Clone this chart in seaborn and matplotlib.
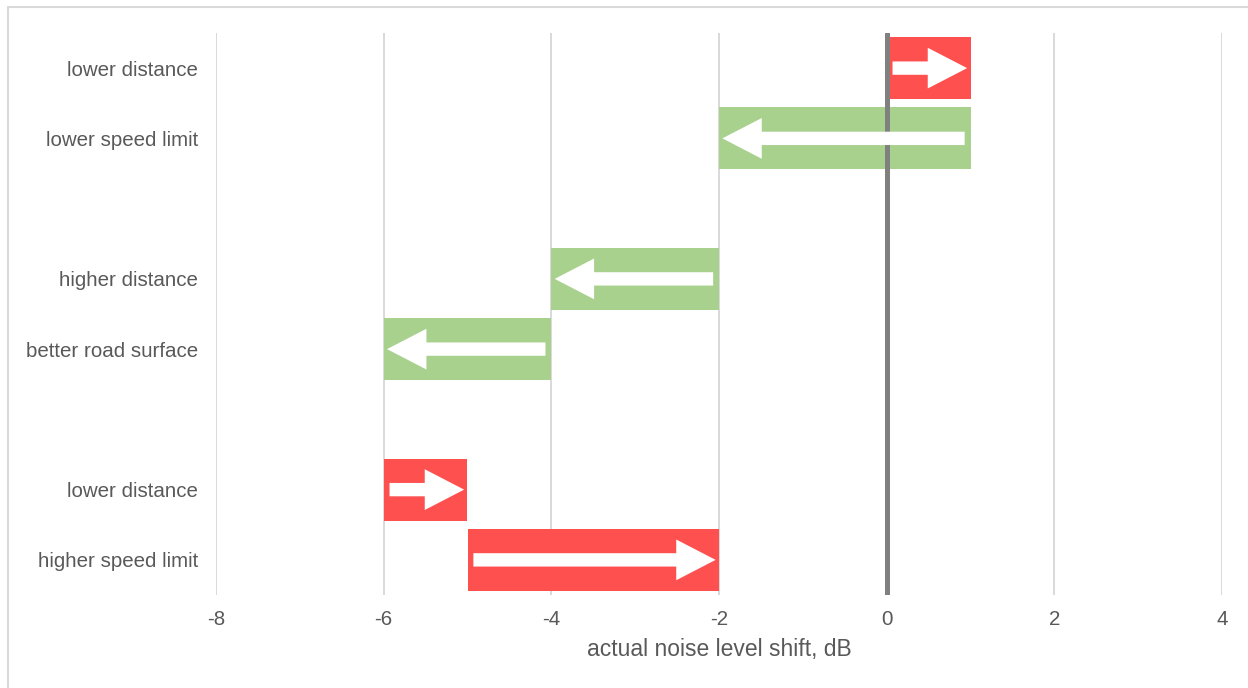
import matplotlib
matplotlib.use("Agg")
import matplotlib.pyplot as plt
import matplotlib.patches as mpatches
import seaborn as sns
import pandas as pd
import numpy as np

# rows top -> bottom, gaps are empty slots
slots = ["r0", "r1", "g1", "r2", "r3", "g2", "r4", "r5"]
slot_labels = ["lower distance", "lower speed limit", "",
               "higher distance", "better road surface", "",
               "lower distance", "higher speed limit"]

# bars: start value -> end value (dB)
bar_rows = ["r0", "r1", "r2", "r3", "r4", "r5"]
bar_start = [0, 1, -2, -4, -6, -5]
bar_end = [1, -2, -4, -6, -5, -2]
bar_effect = ["worse", "better", "better", "better", "worse", "worse"]

colors = {"worse": "#FF5050", "better": "#A9D18E"}

df = pd.DataFrame({"row": bar_rows, "start": bar_start, "end": bar_end,
                   "effect": bar_effect})
df["left"] = df[["start", "end"]].min(axis=1)
df["width"] = (df["end"] - df["start"]).abs()

sns.set_theme(style="white")
plt.rcParams["font.family"] = ["Liberation Sans", "DejaVu Sans"]
plt.rcParams["axes.unicode_minus"] = False

fig = plt.figure(figsize=(12.48, 6.88), dpi=100)
ax = fig.add_axes([216/1248, 1-595/688, (1222-216)/1248, (595-33)/688])

ax.grid(axis="x", color="#D9D9D9", linewidth=1.4, zorder=0)
ax.set_axisbelow(True)

sns.barplot(data=df, x="width", y="row", hue="effect", palette=colors,
            order=slots, orient="y", dodge=False, legend=False,
            errorbar=None, width=0.88, saturation=1, linewidth=0, ax=ax)

# floating bars: move each bar to its start value
pos = {s: i for i, s in enumerate(slots)}
left_at = {pos[r]: l for r, l in zip(df["row"], df["left"])}
for p in ax.patches:
    yc = round(p.get_y() + p.get_height() / 2)
    if yc in left_at:
        p.set_x(left_at[yc])
    p.set_zorder(2)

# white arrows inside the bars
for _, r in df.iterrows():
    d = np.sign(r["end"] - r["start"])
    x0 = r["start"] + 0.07 * d
    x1 = r["end"] - 0.04 * d
    ax.arrow(x0, pos[r["row"]], x1 - x0, 0, width=0.19, head_width=0.58,
             head_length=0.47, length_includes_head=True,
             facecolor="white", edgecolor="none", zorder=4)

ax.axvline(0, color="#808080", linewidth=3.6, zorder=3)

ax.set_xlim(-8, 4)
ax.set_xticks(np.arange(-8, 5, 2))
ax.set_ylim(len(slots) - 0.5, -0.5)
ax.set_yticks(range(len(slots)))
ax.set_yticklabels(slot_labels)
ax.tick_params(axis="y", length=0, pad=13, labelsize=14.8, labelcolor="#595959")
ax.tick_params(axis="x", length=0, pad=11, labelsize=14.8, labelcolor="#595959")
ax.set_xlabel("actual noise level shift, dB", fontsize=16.5, color="#595959",
              labelpad=6)
ax.set_ylabel("")
for s in ax.spines.values():
    s.set_visible(False)

# outer chart border
fig.patches.append(mpatches.Rectangle((8/1248, -0.1), 1.2, 1.1 - 7/688,
                                      transform=fig.transFigure, fill=False,
                                      edgecolor="#D9D9D9", linewidth=1.5))

fig.savefig("out.png", dpi=100)
